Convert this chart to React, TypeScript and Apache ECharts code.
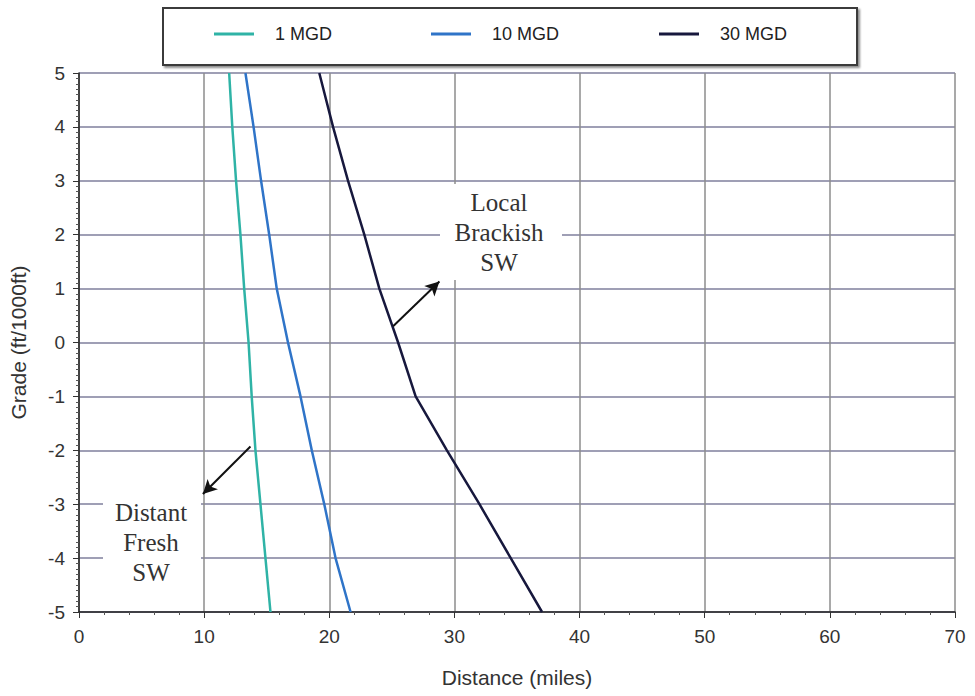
import React, { useEffect, useRef } from "react";
import * as echarts from "echarts";

// Grade (ft/1000ft) sampled at each gridline, and the distance (miles) at which each flow curve crosses it
const grades = [5, 4, 3, 2, 1, 0, -1, -2, -3, -4, -5];
const dist1MGD = [12.0, 12.25, 12.55, 12.9, 13.2, 13.55, 13.8, 14.1, 14.5, 14.9, 15.3];
const dist10MGD = [13.3, 13.95, 14.55, 15.2, 15.8, 16.7, 17.7, 18.6, 19.6, 20.5, 21.7];
const dist30MGD = [19.2, 20.3, 21.5, 22.8, 24.0, 25.5, 26.9, 29.4, 32.0, 34.5, 37.0];

const seriesNames = ["1 MGD", "10 MGD", "30 MGD"];
const seriesColors = ["#2fb3a6", "#2f74c8", "#17183d"];

// Annotation arrows, [x, y] in data units (tail, head)
const brackishArrow = [[25.1, 0.3], [28.8, 1.13]];
const freshArrow = [[13.7, -1.93], [9.9, -2.81]];

const SANS = "'Liberation Sans', Arial, Helvetica, sans-serif";
const SERIF = "'Liberation Serif', 'Times New Roman', Times, serif";

function pairs(xs: number[]) {
  return xs.map((x, i) => [x, grades[i]]);
}

export default function App() {
  const ref = useRef<HTMLDivElement>(null);

  useEffect(() => {
    if (!ref.current) return;
    const chart = echarts.init(ref.current, undefined, { renderer: "svg" });

    const seriesData = [dist1MGD, dist10MGD, dist30MGD];
    const arrowLine = (a: number[][]) => ({
      silent: true,
      symbol: ["none", "arrow"],
      symbolSize: [11, 14],
      label: { show: false },
      lineStyle: { color: "#111", width: 2, type: "solid" },
      data: [[{ coord: a[0] }, { coord: a[1] }]],
    });

    const series: any[] = seriesNames.map((name, i) => ({
      name,
      type: "line",
      data: pairs(seriesData[i]),
      showSymbol: false,
      symbol: "none",
      lineStyle: { color: seriesColors[i], width: 2.5 },
      itemStyle: { color: seriesColors[i] },
      z: 3,
    }));
    series[2].markLine = arrowLine(brackishArrow);
    series[0].markLine = arrowLine(freshArrow);

    const legendLefts = [214, 431, 659];
    const legends = seriesNames.map((name, i) => ({
      data: [name],
      left: legendLefts[i],
      top: 25,
      padding: 0,
      icon: "rect",
      itemWidth: 40,
      itemHeight: 3,
      selectedMode: false,
      textStyle: {
        fontFamily: SANS,
        fontSize: 18,
        color: "#222",
        padding: [0, 0, 0, 16],
      },
    }));

    chart.setOption({
      animation: false,
      backgroundColor: "#fff",
      grid: { left: 79, right: 20, top: 73, bottom: 84 },
      legend: legends,
      xAxis: {
        type: "value",
        min: 0,
        max: 70,
        interval: 10,
        name: "Distance (miles)",
        nameLocation: "middle",
        nameGap: 55,
        nameTextStyle: { fontFamily: SANS, fontSize: 21, color: "#333" },
        axisLine: { show: true, onZero: false, lineStyle: { color: "#222", width: 1.5 } },
        axisTick: { show: true, length: 6, lineStyle: { color: "#333" } },
        minorTick: { show: true, splitNumber: 5, length: 3, lineStyle: { color: "#555" } },
        axisLabel: { fontFamily: SANS, fontSize: 19, color: "#333", margin: 15 },
        splitLine: { show: true, lineStyle: { color: "#8c8c8c", width: 1.5 } },
      },
      yAxis: {
        type: "value",
        min: -5,
        max: 5,
        interval: 1,
        name: "Grade (ft/1000ft)",
        nameLocation: "middle",
        nameGap: 50,
        nameRotate: 90,
        nameTextStyle: { fontFamily: SANS, fontSize: 21, color: "#333" },
        axisLine: { show: true, onZero: false, lineStyle: { color: "#222", width: 1.5 } },
        axisTick: { show: true, length: 6, lineStyle: { color: "#333" } },
        minorTick: { show: true, splitNumber: 10, length: 3, lineStyle: { color: "#555" } },
        axisLabel: { fontFamily: SANS, fontSize: 19, color: "#333", margin: 14 },
        splitLine: { show: true, lineStyle: { color: "#7f7f9c", width: 1.5 } },
      },
      graphic: [
        {
          type: "rect",
          shape: { x: 163, y: 8, width: 694, height: 57 },
          style: {
            fill: "#fff",
            stroke: "#3a3a3a",
            lineWidth: 2,
            shadowBlur: 2,
            shadowOffsetX: 2,
            shadowOffsetY: 2,
            shadowColor: "rgba(0,0,0,0.45)",
          },
          z: -1,
          silent: true,
        },
        {
          type: "rect",
          shape: { x: 440, y: 184, width: 122, height: 96 },
          style: { fill: "#fff" },
          z: 10,
          silent: true,
        },
        {
          type: "text",
          x: 499,
          y: 232,
          style: {
            text: "Local\nBrackish\nSW",
            fontFamily: SERIF,
            fontSize: 25,
            lineHeight: 30,
            fill: "#333",
            align: "center",
            verticalAlign: "middle",
          },
          z: 11,
          silent: true,
        },
        {
          type: "rect",
          shape: { x: 103, y: 492, width: 98, height: 104 },
          style: { fill: "#fff" },
          z: 10,
          silent: true,
        },
        {
          type: "text",
          x: 151,
          y: 542,
          style: {
            text: "Distant\nFresh\nSW",
            fontFamily: SERIF,
            fontSize: 25,
            lineHeight: 30,
            fill: "#333",
            align: "center",
            verticalAlign: "middle",
          },
          z: 11,
          silent: true,
        },
      ],
      series,
    });

    return () => chart.dispose();
  }, []);

  return <div ref={ref} style={{ width: 975, height: 696, position: "absolute", left: 0, top: 0 }} />;
}
